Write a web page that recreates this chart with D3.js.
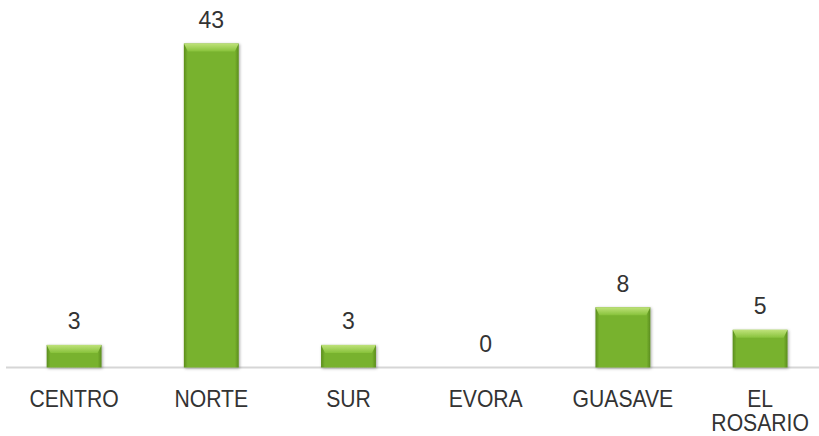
<!DOCTYPE html>
<html>
<head>
<meta charset="utf-8">
<script src="https://cdn.jsdelivr.net/npm/d3@7"></script>
<style>
  body { margin: 0; background: #fff; }
  text { font-family: "Liberation Sans", Arial, sans-serif; fill: #333; }
</style>
</head>
<body>
<div id="chart"></div>
<script>
var categories = ["CENTRO", "NORTE", "SUR", "EVORA", "GUASAVE", "EL ROSARIO"];
var values = [3, 43, 3, 0, 8, 5];

var w = 819, h = 436;
var baseY = 367.5;

var svg = d3.select("#chart").append("svg")
    .attr("width", w)
    .attr("height", h);

var defs = svg.append("defs");

var side = defs.append("linearGradient").attr("id", "side")
    .attr("x1", "0").attr("x2", "1").attr("y1", "0").attr("y2", "0");
side.append("stop").attr("offset", "0").attr("stop-color", "#5b8d1c");
side.append("stop").attr("offset", "0.07").attr("stop-color", "#78b22f");
side.append("stop").attr("offset", "0.93").attr("stop-color", "#78b22f");
side.append("stop").attr("offset", "1").attr("stop-color", "#5b8d1c");

var bevel = defs.append("linearGradient").attr("id", "topBevel")
    .attr("x1", "0").attr("x2", "0").attr("y1", "0").attr("y2", "1");
bevel.append("stop").attr("offset", "0").attr("stop-color", "#bfe27a");
bevel.append("stop").attr("offset", "1").attr("stop-color", "#88c23b");

var shadow = defs.append("filter").attr("id", "shadow")
    .attr("x", "-20%").attr("y", "-20%").attr("width", "140%").attr("height", "140%");
shadow.append("feDropShadow").attr("dx", 1).attr("dy", 1)
    .attr("stdDeviation", 1.5).attr("flood-color", "#000").attr("flood-opacity", 0.35);

var x = d3.scaleBand()
    .domain(categories)
    .range([5.5, 828.7])
    .paddingInner(0.6)
    .paddingOuter(0.3);

var y = d3.scaleLinear()
    .domain([0, 43])
    .range([baseY, 43.5]);

// axis line
svg.append("line")
    .attr("x1", 6).attr("x2", w)
    .attr("y1", baseY).attr("y2", baseY)
    .attr("stroke", "#d6d6d6")
    .attr("stroke-width", 2);

var data = categories.map(function(c, i) { return {cat: c, val: values[i]}; });

var bars = svg.selectAll("g.bar").data(data.filter(function(d) { return d.val > 0; }))
    .enter().append("g").attr("class", "bar")
    .attr("filter", "url(#shadow)");

bars.append("rect")
    .attr("x", function(d) { return x(d.cat); })
    .attr("y", function(d) { return y(d.val); })
    .attr("width", x.bandwidth())
    .attr("height", function(d) { return baseY - y(d.val); })
    .attr("fill", "url(#side)");

// top bevel
bars.append("path")
    .attr("d", function(d) {
      var x0 = x(d.cat), x1 = x0 + x.bandwidth(), t = y(d.val);
      var bh = Math.min(8, (baseY - t) / 2);
      return "M" + x0 + "," + t + "L" + x1 + "," + t +
        "L" + (x1 - 4) + "," + (t + bh) + "L" + (x0 + 4) + "," + (t + bh) + "Z";
    })
    .attr("fill", "url(#topBevel)");

// value labels
svg.selectAll("text.val").data(data)
    .enter().append("text").attr("class", "val")
    .attr("x", function(d) { return x(d.cat) + x.bandwidth() / 2; })
    .attr("y", function(d) { return y(d.val) - 15.5; })
    .attr("text-anchor", "middle")
    .attr("font-size", 23)
    .text(function(d) { return d.val; });

// category labels (font is a little narrow in the original)
var labels = svg.selectAll("text.cat").data(data)
    .enter().append("text").attr("class", "cat")
    .attr("text-anchor", "middle")
    .attr("font-size", 23.5)
    .attr("transform", function(d) {
      return "translate(" + (x(d.cat) + x.bandwidth() / 2) + ",406.5) scale(0.9,1)";
    });

labels.each(function(d) {
  var t = d3.select(this);
  d.cat.split(" ").forEach(function(word, j) {
    t.append("tspan")
      .attr("x", 0)
      .attr("y", j * 25)
      .text(word);
  });
});
</script>
</body>
</html>
